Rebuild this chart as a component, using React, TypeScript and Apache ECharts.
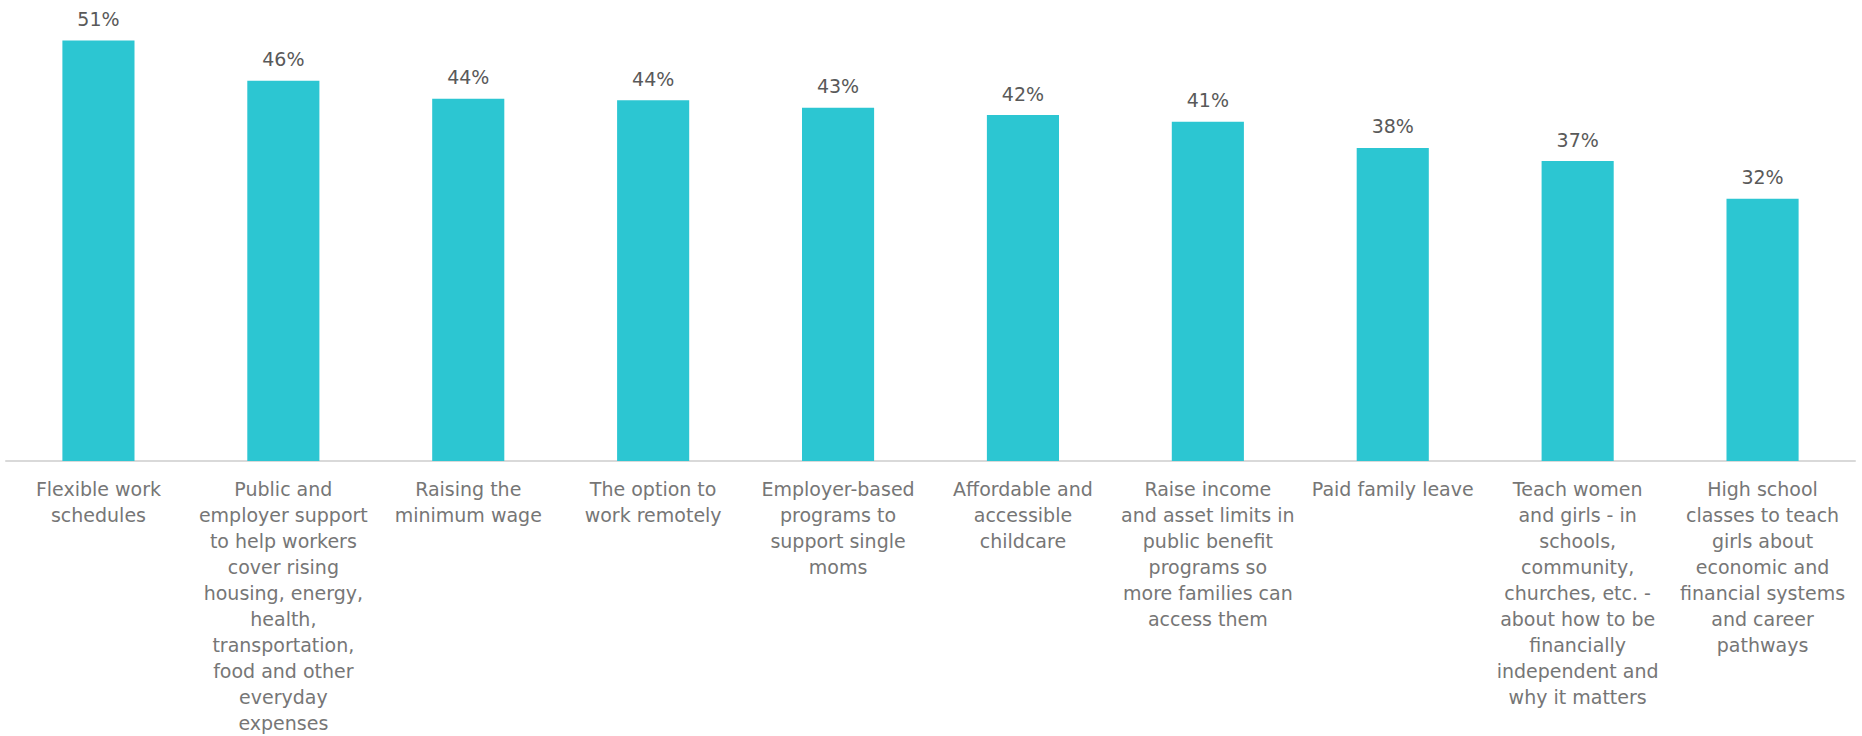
import React, { useEffect, useRef } from "react";
import * as echarts from "echarts";

const categories: string[] = [
  "Flexible work\nschedules",
  "Public and\nemployer support\nto help workers\ncover rising\nhousing, energy,\nhealth,\ntransportation,\nfood and other\neveryday\nexpenses",
  "Raising the\nminimum wage",
  "The option to\nwork remotely",
  "Employer-based\nprograms to\nsupport single\nmoms",
  "Affordable and\naccessible\nchildcare",
  "Raise income\nand asset limits in\npublic benefit\nprograms so\nmore families can\naccess them",
  "Paid family leave",
  "Teach women\nand girls - in\nschools,\ncommunity,\nchurches, etc. -\nabout how to be\nfinancially\nindependent and\nwhy it matters",
  "High school\nclasses to teach\ngirls about\neconomic and\nfinancial systems\nand career\npathways",
];

const values: number[] = [51.3, 46.4, 44.2, 44.0, 43.1, 42.2, 41.4, 38.2, 36.6, 32.0];

export default function App() {
  const ref = useRef<HTMLDivElement>(null);
  useEffect(() => {
    if (!ref.current) return;
    const chart = echarts.init(ref.current, null, { renderer: "svg" });
    chart.setOption({
      animation: false,
      backgroundColor: "#ffffff",
      grid: { left: 6, right: 7, top: 2, bottom: 275, containLabel: false },
      xAxis: {
        type: "category",
        data: categories,
        axisLine: { show: true, lineStyle: { color: "#d9d9d9", width: 2 } },
        axisTick: { show: false },
        axisLabel: {
          interval: 0,
          margin: 15,
          color: "#767676",
          fontSize: 19,
          lineHeight: 26,
          fontFamily: "DejaVu Sans",
          align: "center",
        },
      },
      yAxis: {
        type: "value",
        min: 0,
        max: 56,
        show: false,
        splitLine: { show: false },
      },
      series: [
        {
          type: "bar",
          data: values,
          barWidth: "39%",
          itemStyle: { color: "#2CC6D2" },
          label: {
            show: true,
            position: "top",
            distance: 12,
            formatter: (p: any) => `${Math.round(p.value)}%`,
            color: "#595959",
            fontSize: 19,
            fontFamily: "DejaVu Sans",
          },
        },
      ],
    });
    return () => chart.dispose();
  }, []);
  return (
    <div
      ref={ref}
      style={{ position: "absolute", left: 0, top: 0, width: 1862, height: 736 }}
    />
  );
}
